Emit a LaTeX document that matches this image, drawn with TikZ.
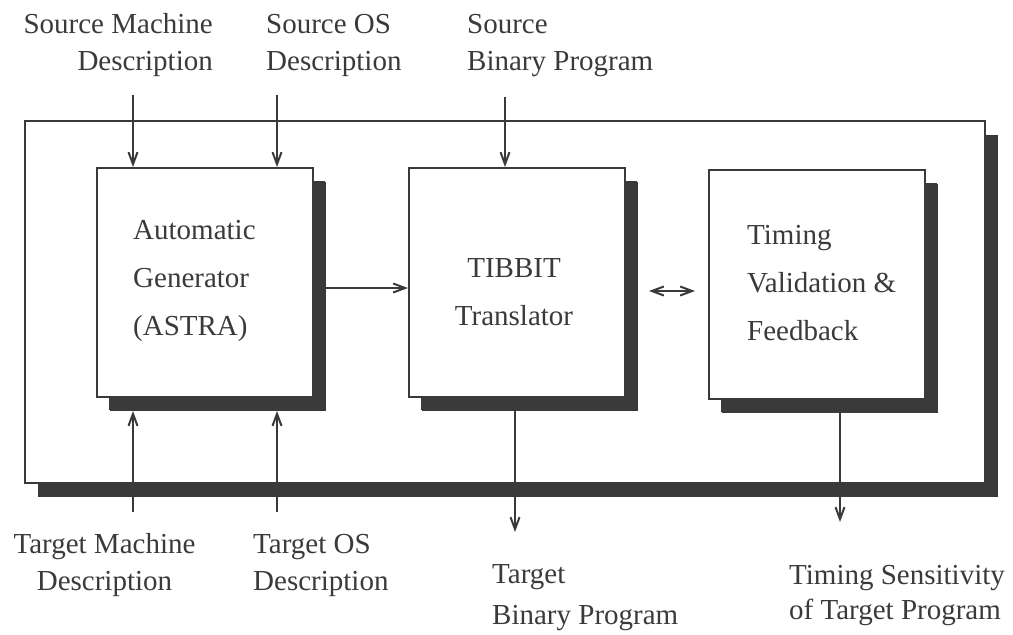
\documentclass[tikz,border=0pt]{standalone}
\usepackage{fontspec}
\setmainfont{Liberation Serif}
\usetikzlibrary{arrows.meta,shadows}
\definecolor{ink}{RGB}{58,58,58}
\begin{document}
\begin{tikzpicture}[x=1pt,y=-1pt,
  frame/.style={draw=ink, line width=2pt, fill=white, inner sep=0pt,
    drop shadow={shadow xshift=13pt, shadow yshift=-14pt, fill=ink, opacity=1}},
  box/.style={frame, minimum width=216pt, minimum height=229pt,
    drop shadow={shadow xshift=12pt, shadow yshift=-13pt, fill=ink, opacity=1}},
  lbl/.style={text=ink, inner sep=0pt, font=\fontsize{29}{37}\selectfont},
  boxtext/.style={text=ink, inner sep=0pt, font=\fontsize{29}{48}\selectfont},
  tip/.style={Straight Barb[length=12pt,width=9pt,line width=2pt]},
  conn/.style={draw=ink, line width=1.6pt, -{Straight Barb[length=12pt,width=9pt,line width=2pt]}},
  both/.style={draw=ink, line width=1.6pt, {Straight Barb[length=12pt,width=9pt,line width=2pt]}-{Straight Barb[length=12pt,width=9pt,line width=2pt]}}
]
\useasboundingbox (0,0) rectangle (1013,635);

% enclosing frame
\node[frame, minimum width=960pt, minimum height=362pt] (outer) at (505,302) {};

% the three stages
\node[box] (b1) at (205,282.5) {};
\node[box] (b2) at (517,282.5) {};
\node[box] (b3) at (817,284) {};

% stage names (anchored at the baseline of their last line)
\node[boxtext, align=left, anchor=base west] (b1t) at (133,335) {Automatic\\Generator\\(ASTRA)};
\node[boxtext, align=center, anchor=base] (b2t) at (514,325) {TIBBIT\\Translator};
\node[boxtext, align=left, anchor=base west] (b3t) at (747,340) {Timing\\Validation \&\\Feedback};

% outside labels
\node[lbl, align=right, anchor=base east] (sm) at (213,70) {Source Machine\\Description};
\node[lbl, align=left, anchor=base west] (sos) at (266,70) {Source OS\\Description};
\node[lbl, align=left, anchor=base west] (sbp) at (467,70) {Source\\Binary Program};
\node[lbl, align=center, anchor=base] (tm) at (104.5,590) {Target Machine\\Description};
\node[lbl, align=left, anchor=base west] (tos) at (253,590) {Target OS\\Description};
\node[lbl, align=left, anchor=base west, font=\fontsize{29}{41}\selectfont] (tbp) at (492,624) {Target\\Binary Program};
\node[lbl, align=left, anchor=base west, font=\fontsize{29}{35}\selectfont] (ts) at (789,619) {Timing Sensitivity\\of Target Program};

% shadow edges of the stages
\coordinate (b1s) at ([yshift=-13pt]b1.south);
\coordinate (b2s) at ([yshift=-13pt]b2.south);
\coordinate (b3s) at ([yshift=-13pt]b3.south);

% inputs from above
\coordinate (smIn) at (133,95);
\coordinate (sosIn) at (277,95);
\coordinate (sbpIn) at (505,97);
\draw[conn] (smIn) -- (smIn |- b1.north);
\draw[conn] (sosIn) -- (sosIn |- b1.north);
\draw[conn] (sbpIn) -- (sbpIn |- b2.north);

% inputs from below
\coordinate (tmIn) at (133,512);
\coordinate (tosIn) at (277,512);
\draw[conn] (tmIn) -- (tmIn |- b1s);
\draw[conn] (tosIn) -- (tosIn |- b1s);

% links between stages
\draw[conn] ([shift={(12,5.5)}]b1.east) -- ([shift={(0,5.5)}]b2.west);
\draw[both] ([shift={(23,8.5)}]b2.east) -- ([shift={(-13,7)}]b3.west);

% outputs
\coordinate (tbpOut) at (515,532);
\coordinate (tsOut) at (840,522);
\draw[conn] (tbpOut |- b2s) -- (tbpOut);
\draw[conn] (tsOut |- b3s) -- (tsOut);
\end{tikzpicture}
\end{document}
